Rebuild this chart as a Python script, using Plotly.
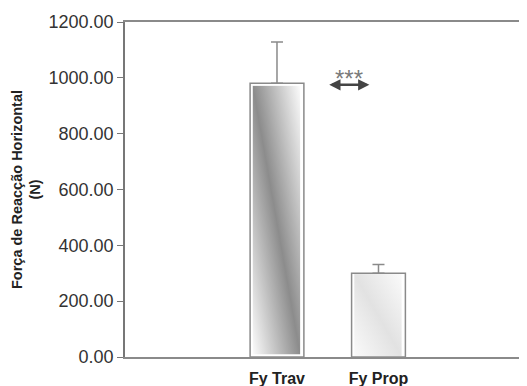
import plotly.graph_objects as go
import base64

categories = ["Fy Trav", "Fy Prop"]
means = [981, 300]
errors = [147, 31]
tick_vals = [0, 200, 400, 600, 800, 1000, 1200]

bar_width = 0.53


def grad_svg(c_light, c_dark):
    svg = (
        '<svg xmlns="http://www.w3.org/2000/svg" viewBox="0 0 100 100" preserveAspectRatio="none">'
        '<defs><linearGradient id="g" x1="1" y1="0" x2="0" y2="1">'
        f'<stop offset="0" stop-color="{c_light}"/>'
        f'<stop offset="0.5" stop-color="{c_dark}"/>'
        f'<stop offset="1" stop-color="{c_light}"/>'
        '</linearGradient></defs>'
        '<rect width="100" height="100" fill="white"/>'
        '<rect x="5" y="1" width="88" height="98" fill="url(#g)"/>'
        '</svg>'
    )
    return "data:image/svg+xml;base64," + base64.b64encode(svg.encode()).decode()


grads = [grad_svg("#fbfbfb", "#8c8c8c"), grad_svg("#fafafa", "#e2e2e2")]

xs = list(range(len(categories)))

fig = go.Figure()
fig.add_trace(go.Bar(
    x=xs, y=means, width=bar_width,
    marker=dict(color="rgba(0,0,0,0)", line=dict(color="#8a8a8a", width=1.5)),
    error_y=dict(type="data", symmetric=False, array=errors, arrayminus=[0, 0],
                 color="#8a8a8a", thickness=1.5, width=6),
    showlegend=False,
))

images = []
for i, (m, src) in enumerate(zip(means, grads)):
    images.append(dict(source=src, xref="x", yref="y", x=i - bar_width / 2, y=m,
                       sizex=bar_width, sizey=m, sizing="stretch", layer="below",
                       xanchor="left", yanchor="top"))

fig.update_layout(
    width=527, height=386,
    margin=dict(l=117, r=0, t=14, b=37),
    paper_bgcolor="white", plot_bgcolor="white",
    images=images,
    font=dict(family="Liberation Sans, Arial, sans-serif", color="#333333"),
    xaxis=dict(range=[-1.4975, 2.542], tickvals=xs,
               ticktext=["<b>" + c + "</b>" for c in categories],
               showline=True, mirror=True, linecolor="#8a8a8a", linewidth=1.5,
               showgrid=False, zeroline=False, ticks="",
               tickfont=dict(size=16, color="#222222"),
               ticklabelstandoff=6),
    yaxis=dict(range=[0, 1200], tickvals=tick_vals, tickformat=".2f",
               showline=True, linecolor="#777777", linewidth=1.5,
               ticks="outside", ticklen=6, tickcolor="#777777", tickwidth=1.2,
               showgrid=False, zeroline=False,
               tickfont=dict(size=18, color="#333333"),
               title=dict(text="<b>Força de Reacção Horizontal<br>(N)</b>",
                          font=dict(size=14.5, color="#222222"), standoff=4),
               automargin=False),
)

# significance marker
fig.add_annotation(x=0.91, y=975, ax=0.5, ay=975, xref="x", yref="y", axref="x", ayref="y",
                   text="", showarrow=True, arrowhead=2, arrowside="end+start",
                   arrowsize=0.9, arrowwidth=2.5, arrowcolor="#444444")
fig.add_annotation(x=0.705, y=997, xref="x", yref="y", text="***", showarrow=False,
                   font=dict(size=24, color="#7a7a7a"))

fig.write_html("out.html")
